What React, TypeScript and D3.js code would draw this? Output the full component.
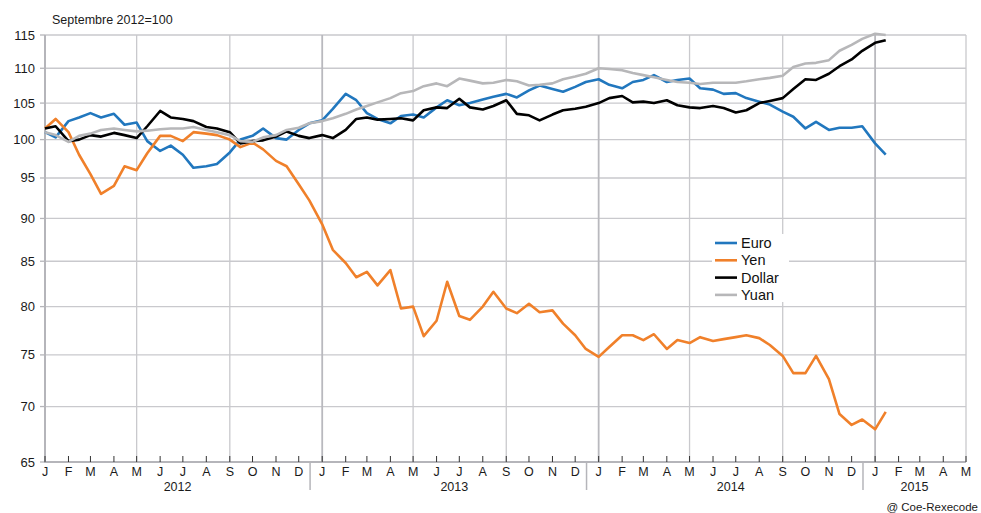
import React from "react";
import * as d3 from "d3";

// semi-monthly samples (1st and 15th), Jan 2012 -> mid Jan 2015
const START = new Date(Date.UTC(2012, 0, 1));
const sampleDates: Date[] = d3
  .range(74)
  .map((i) => d3.utcDay.offset(d3.utcMonth.offset(START, Math.floor(i / 2)), (i % 2) * 14));

const euro = [
  101.0, 100.3, 102.5, 103.0, 103.6, 103.0, 103.5, 102.0, 102.3, 99.8, 98.5, 99.2,
  98.0, 96.3, 96.5, 96.8, 98.3, 100.0, 100.5, 101.5, 100.2, 100.0, 101.3, 102.2,
  102.6, 104.2, 106.3, 105.4, 103.6, 102.8, 102.2, 103.2, 103.4, 103.0, 104.4, 105.4,
  104.7, 105.0, 105.5, 105.9, 106.3, 105.8, 106.8, 107.5, 107.0, 106.6, 107.3, 108.0,
  108.4, 107.6, 107.1, 108.0, 108.3, 109.0, 108.0, 108.3, 108.5, 107.1, 106.9, 106.3,
  106.4, 105.7, 105.2, 104.8, 103.8, 103.1, 101.5, 102.4, 101.3, 101.6, 101.6, 101.8,
  99.5, 98.0,
];

const yen = [
  101.5, 102.8, 101.0, 98.0, 95.5, 93.0, 94.0, 96.5, 96.0, 98.2, 100.5, 100.5,
  99.8, 101.0, 100.8, 100.6, 100.0, 99.0, 99.6, 98.7, 97.2, 96.5, 94.2, 92.2,
  89.3, 86.3, 84.8, 83.2, 83.8, 82.3, 84.0, 79.8, 80.0, 76.9, 78.5, 82.7,
  79.0, 78.6, 80.0, 81.6, 79.8, 79.3, 80.3, 79.4, 79.6, 78.2, 77.0, 75.6,
  74.8, 75.8, 77.0, 77.0, 76.5, 77.1, 75.6, 76.5, 76.2, 76.8, 76.4, 76.6,
  76.8, 77.0, 76.7, 76.0, 74.9, 73.2, 73.2, 74.9, 72.6, 69.3, 68.3, 68.8,
  67.9, 69.5,
];

const dollar = [
  101.5, 101.8, 99.8, 100.0, 100.6, 100.4, 100.9, 100.6, 100.2, 101.8, 103.9, 103.0,
  102.8, 102.5, 101.7, 101.5, 101.0, 99.5, 99.8, 99.9, 100.4, 101.1, 100.5, 100.2,
  100.6, 100.2, 101.3, 102.8, 103.0, 102.7, 102.8, 102.9, 102.6, 104.0, 104.4, 104.3,
  105.6, 104.4, 104.1, 104.6, 105.4, 103.5, 103.3, 102.6, 103.4, 104.0, 104.2, 104.5,
  105.0, 105.7, 106.0, 105.1, 105.2, 105.0, 105.4, 104.7, 104.4, 104.3, 104.6, 104.3,
  103.7, 104.0, 105.0, 105.3, 105.7, 107.0, 108.4, 108.3, 109.2, 110.3, 111.3, 112.6,
  113.8, 114.2,
];

const yuan = [
  101.0, 100.6, 99.7, 100.5, 100.8, 101.3, 101.5, 101.3, 101.1, 101.2, 101.4, 101.5,
  101.5, 101.7, 101.3, 101.0, 100.6, 99.8, 99.7, 100.3, 100.6, 101.3, 101.6, 102.2,
  102.5, 102.9, 103.5, 104.1, 104.6, 105.1, 105.7, 106.4, 106.7, 107.4, 107.8, 107.4,
  108.5, 108.2, 107.8, 107.9, 108.3, 108.1, 107.5, 107.6, 107.8, 108.4, 108.8, 109.2,
  110.0, 109.9, 109.7, 109.3, 109.0, 108.7, 108.3, 108.0, 107.9, 107.7, 107.9, 107.9,
  107.9, 108.1, 108.4, 108.6, 108.9, 110.2, 110.7, 110.8, 111.2, 112.6, 113.5, 114.4,
  115.2, 115.0,
];

const seriesNames = ["Euro", "Yen", "Dollar", "Yuan"];
const seriesColors = ["#2177be", "#f0802a", "#000000", "#b7b7b9"];
const seriesValues = [euro, yen, dollar, yuan];

const yTicks = [65, 70, 75, 80, 85, 90, 95, 100, 105, 110, 115];
const monthLetters = ["J", "F", "M", "A", "M", "J", "J", "A", "S", "O", "N", "D"];
const years = [2012, 2013, 2014, 2015];

const W = 981;
const H = 513;
const FONT = "'Liberation Sans', Arial, Helvetica, sans-serif";

export default function App() {
  const x = d3
    .scaleUtc()
    .domain([START, new Date(Date.UTC(2015, 4, 1))])
    .range([45, 966]);
  const y = d3.scaleLog().domain([65, 115]).range([462, 35]);

  const months = d3.utcMonth.range(START, new Date(Date.UTC(2015, 4, 2)));
  const gridMonths = months.filter((m) => m.getUTCMonth() % 4 === 0);

  const line = d3
    .line<number>()
    .x((_, i) => x(sampleDates[i]))
    .y((v) => y(v))
    .curve(d3.curveLinear);

  // year separators placed mid-December, labels centred on their segment
  const sep = years.slice(0, 3).map((yr) => x(new Date(Date.UTC(yr, 11, 16))));
  const segStart = [x(START), ...sep];
  const segEnd = [...sep, x(new Date(Date.UTC(2015, 4, 1)))];

  const [x0, x1] = x.range();

  return (
    <svg
      width={W}
      height={H}
      style={{ position: "absolute", left: 0, top: 0, background: "#fff" }}
      fontFamily={FONT}
    >
      <rect width={W} height={H} fill="#fff" />
      <text x={52} y={24} fontSize={12.5} fill="#1a1a1a">
        Septembre 2012=100
      </text>

      {/* horizontal grid */}
      {yTicks.map((t) => (
        <g key={t}>
          <line x1={x0} x2={x1} y1={y(t)} y2={y(t)} stroke="#c9c9cd" strokeWidth={1.3} />
          <line x1={x0 - 5} x2={x0} y1={y(t)} y2={y(t)} stroke="#b5b5ba" strokeWidth={1.3} />
          <text x={35} y={y(t) + 4.5} textAnchor="end" fontSize={13} fill="#1a1a1a">
            {t}
          </text>
        </g>
      ))}

      {/* vertical grid */}
      {gridMonths.map((m) => {
        const isJan = m.getUTCMonth() === 0;
        return (
          <line
            key={m.toISOString()}
            x1={x(m)}
            x2={x(m)}
            y1={35}
            y2={462}
            stroke={isJan ? "#b9b9be" : "#c9c9cd"}
            strokeWidth={isJan ? 1.8 : 1.3}
          />
        );
      })}

      {/* axes */}
      <line x1={x0} x2={x0} y1={35} y2={463} stroke="#b5b5ba" strokeWidth={2} />
      <line x1={x0} x2={x1} y1={462} y2={462} stroke="#b5b5ba" strokeWidth={2} />

      {/* month ticks + labels */}
      {months.map((m) => (
        <g key={"m" + m.toISOString()}>
          <line x1={x(m)} x2={x(m)} y1={456} y2={462} stroke="#333" strokeWidth={1} />
          <text x={x(m)} y={475.5} textAnchor="middle" fontSize={12.5} fill="#1a1a1a">
            {monthLetters[m.getUTCMonth()]}
          </text>
        </g>
      ))}

      {/* year separators and labels */}
      {sep.map((sx, i) => (
        <line key={"s" + i} x1={sx} x2={sx} y1={462} y2={490} stroke="#b5b5ba" strokeWidth={1.5} />
      ))}
      {years.map((yr, i) => (
        <text
          key={yr}
          x={(segStart[i] + segEnd[i]) / 2 + (i === 1 || i === 2 ? 6 : 0)}
          y={491}
          textAnchor="middle"
          fontSize={12.5}
          fill="#1a1a1a"
        >
          {yr}
        </text>
      ))}

      {/* series */}
      {seriesValues.map((vals, i) => (
        <path
          key={seriesNames[i]}
          d={line(vals) ?? ""}
          fill="none"
          stroke={seriesColors[i]}
          strokeWidth={2.6}
          strokeLinejoin="round"
        />
      ))}

      {/* legend */}
      <rect x={712} y={234} width={77} height={68} fill="#fff" />
      {seriesNames.map((n, i) => (
        <g key={"l" + n}>
          <line
            x1={715}
            x2={737}
            y1={243 + i * 17.3}
            y2={243 + i * 17.3}
            stroke={seriesColors[i]}
            strokeWidth={2.6}
          />
          <text x={741} y={248 + i * 17.3} fontSize={14.5} fill="#111">
            {n}
          </text>
        </g>
      ))}

      <text x={978} y={511} textAnchor="end" fontSize={11.5} fill="#1a1a1a">
        @ Coe-Rexecode
      </text>
    </svg>
  );
}
